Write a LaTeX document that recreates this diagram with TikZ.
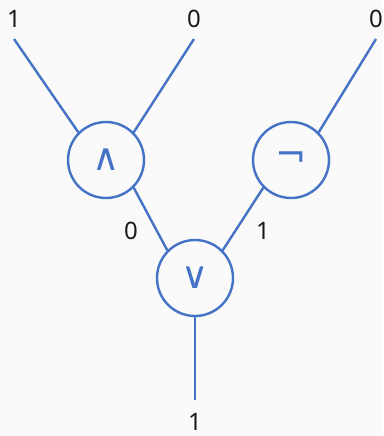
\documentclass[tikz,border=0pt]{standalone}
\usepackage{fontspec}
\setmainfont{Noto Sans}
\newfontfamily\symfont{DejaVu Sans}
\usepackage{xcolor}
\definecolor{gateblue}{HTML}{4472C4}
\definecolor{bggray}{HTML}{FAFAFA}

\begin{document}
\begin{tikzpicture}[x=0.75pt, y=-0.75pt,
        gate/.style={circle, draw=gateblue, line width=1.8pt, minimum size=57pt, inner sep=0pt, text=gateblue, font=\symfont\fontsize{28}{28}\selectfont},
        wire/.style={draw=gateblue, line width=1.8pt},
        val/.style={font=\fontsize{18}{18}\selectfont, text=black!90, inner sep=0pt}]
        % Background
        \fill[bggray] (0,0) rectangle (383,436);
        \useasboundingbox (0,0) rectangle (383,436);

        % Gates
        \node[gate] (and) at (106,160) {∧};
        \node[gate] (not) at (291,160) {¬};
        \node[gate] (or) at (195,278) {∨};

        % Free wire ends
        \coordinate (inA) at (14,39);
        \coordinate (inB) at (194,39);
        \coordinate (inC) at (376,39);
        \coordinate (out) at (195,400);

        % Values
        \node[val] (vA) at (14,19) {1};
        \node[val] (vB) at (194,19) {0};
        \node[val] (vC) at (376,19) {0};
        \node[val] (vAnd) at (131,231) {0};
        \node[val] (vNot) at (263,231) {1};
        \node[val] (vOut) at (195,422) {1};

        % Wires
        \draw[wire] (inA) -- (and.north west);
        \draw[wire] (inB) -- (and.north east);
        \draw[wire] (inC) -- (not.north east);
        \draw[wire] (and.south east) -- (or.north west);
        \draw[wire] (not.south west) -- (or.north east);
        \draw[wire] (or.south) -- (out);
    \end{tikzpicture}
\end{document}
